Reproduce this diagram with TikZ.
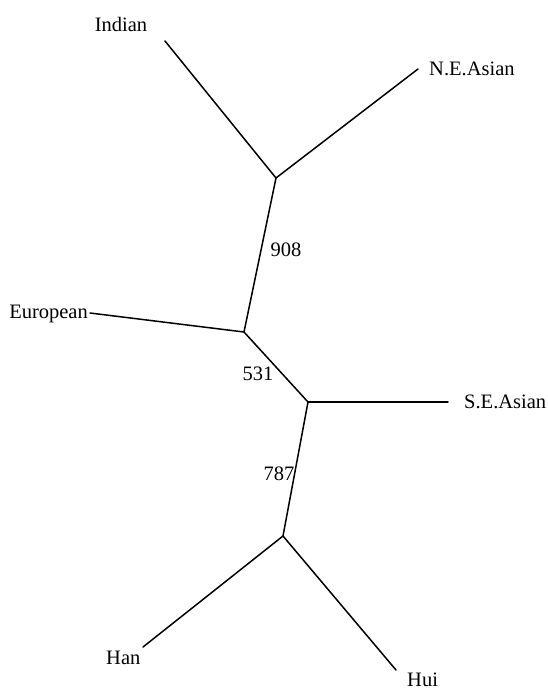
\documentclass[tikz,border=0pt]{standalone}
\usepackage{fontspec}
\setmainfont{Liberation Serif}
\begin{document}
\begin{tikzpicture}[x=1pt,y=-1pt,
  branch/.style={line width=1.5pt, line cap=round, line join=round},
  taxon/.style={inner sep=0pt, font=\fontsize{20.5}{23}\selectfont},
  support/.style={inner sep=0pt, anchor=base, font=\fontsize{20.5}{23}\selectfont}]
  \useasboundingbox (0,0) rectangle (548,689);
  % internal vertices of the unrooted tree
  \coordinate (A) at (276,178);
  \coordinate (B) at (244,332);
  \coordinate (C) at (308,402);
  \coordinate (D) at (283,536);
  % leaf ends
  \coordinate (lInd) at (165,41);
  \coordinate (lNE) at (418,69);
  \coordinate (lEur) at (90,313);
  \coordinate (lSE) at (448,402);
  \coordinate (lHan) at (143,647);
  \coordinate (lHui) at (396,670);
  % branches
  \draw[branch] (lInd) -- (A) -- (lNE);
  \draw[branch] (A) -- (B) -- (C) -- (D);
  \draw[branch] (lEur) -- (B);
  \draw[branch] (C) -- (lSE);
  \draw[branch] (lHan) -- (D) -- (lHui);
  % taxon labels
  \node[taxon, anchor=base] (tInd) at (121,31) {Indian};
  \node[taxon, anchor=base west] (tNE) at (429,75) {N.E.Asian};
  \node[taxon, anchor=base east] (tEur) at (88,318) {European};
  \node[taxon, anchor=base west] (tSE) at (464,408) {S.E.Asian};
  \node[taxon, anchor=base west] (tHan) at (106,664) {Han};
  \node[taxon, anchor=base west] (tHui) at (407,686) {Hui};
  % bootstrap values on internal branches
  \node[support] (s908) at (286,256) {908};
  \node[support] (s531) at (258,380) {531};
  \node[support] (s787) at (279,480) {787};
\end{tikzpicture}
\end{document}
